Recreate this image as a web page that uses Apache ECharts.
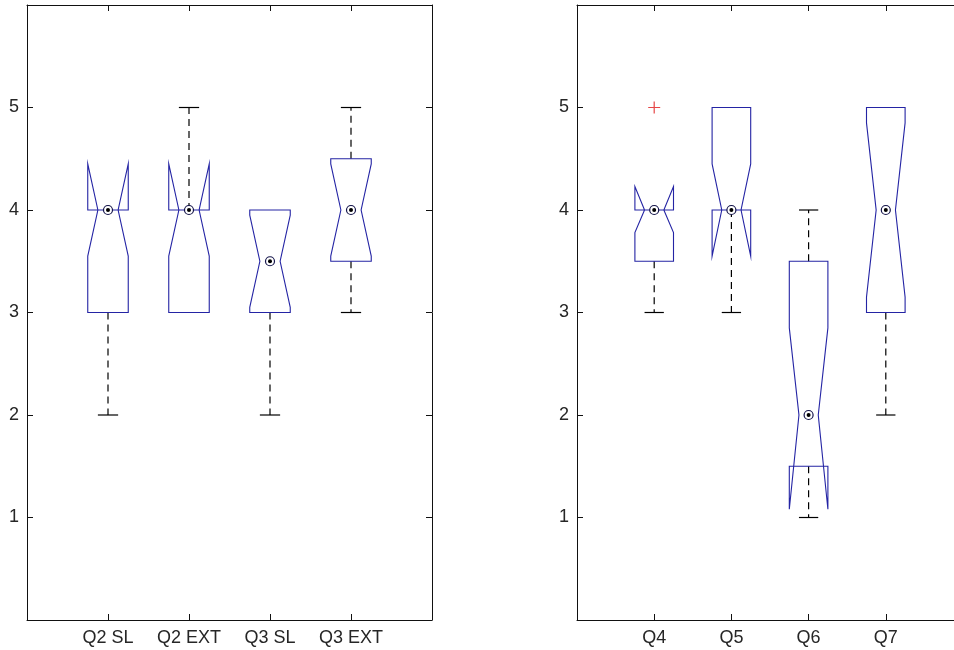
<!DOCTYPE html>
<html>
<head>
<meta charset="utf-8">
<script src="https://cdn.jsdelivr.net/npm/echarts@6/dist/echarts.min.js"></script>
<style>
  html, body { margin: 0; padding: 0; background: #fff; }
  #chart { width: 954px; height: 650px; }
</style>
</head>
<body>
<div id="chart"></div>
<script>
// left panel
const leftNames = ['Q2 SL', 'Q2 EXT', 'Q3 SL', 'Q3 EXT']
const leftWhiskerLow = [2, 3, 2, 3]
const leftQ1 = [3, 3, 3, 3.5]
const leftMedian = [4, 4, 3.5, 4]
const leftQ3 = [4, 4, 4, 4.5]
const leftWhiskerHigh = [4, 5, 4, 5]
const leftNotchLow = [3.55, 3.55, 3.05, 3.55]
const leftNotchHigh = [4.45, 4.45, 3.95, 4.45]
const leftOutliers = []

// right panel
const rightNames = ['Q4', 'Q5', 'Q6', 'Q7']
const rightWhiskerLow = [3, 3, 1, 2]
const rightQ1 = [3.5, 4, 1.5, 3]
const rightMedian = [4, 4, 2, 4]
const rightQ3 = [4, 5, 3.5, 5]
const rightWhiskerHigh = [4, 5, 4, 5]
const rightNotchLow = [3.78, 3.55, 1.08, 3.15]
const rightNotchHigh = [4.23, 4.45, 2.85, 4.85]
const rightOutliers = [[1, 5]]

const yTicks = [1, 2, 3, 4, 5]

const BOX = '#2424a4'
const INK = '#111'

function rows(wl, q1, md, q3, wh, nlo, nhi) {
  return q1.map((_, i) => [i + 1, wl[i], q1[i], md[i], q3[i], wh[i], nlo[i], nhi[i]])
}

function renderBox(params, api) {
  const x = api.value(0)
  const wl = api.value(1), q1 = api.value(2), md = api.value(3), q3 = api.value(4)
  const wh = api.value(5), nlo = api.value(6), nhi = api.value(7)
  const hw = 0.25, ind = 0.125, cap = 0.125
  const P = (dx, v) => api.coord([x + dx, v])
  const kids = []
  const seg = (a, b, dash) => ({
    type: 'line',
    shape: { x1: a[0], y1: a[1], x2: b[0], y2: b[1] },
    style: { stroke: '#000', lineWidth: 1.2, lineDash: dash ? [7, 5] : null }
  })
  if (wh > q3) {
    kids.push(seg(P(0, q3), P(0, wh), true))
    kids.push(seg(P(-cap, wh), P(cap, wh)))
  }
  if (wl < q1) {
    kids.push(seg(P(0, q1), P(0, wl), true))
    kids.push(seg(P(-cap, wl), P(cap, wl)))
  }
  kids.push({
    type: 'polygon',
    shape: {
      points: [
        P(-hw, q1), P(-hw, nlo), P(-hw + ind, md), P(-hw, nhi), P(-hw, q3),
        P(hw, q3), P(hw, nhi), P(hw - ind, md), P(hw, nlo), P(hw, q1)
      ]
    },
    style: { fill: 'none', stroke: BOX, lineWidth: 1.1 }
  })
  const c = P(0, md)
  kids.push({ type: 'circle', shape: { cx: c[0], cy: c[1], r: 4.5 }, style: { fill: '#fff', stroke: '#14144a', lineWidth: 1.2 } })
  kids.push({ type: 'circle', shape: { cx: c[0], cy: c[1], r: 2 }, style: { fill: '#000' } })
  return { type: 'group', children: kids }
}

function xAxes(names, gi) {
  const base = {
    type: 'value', gridIndex: gi, min: 0, max: 5, interval: 1,
    axisLine: { show: true, onZero: false, lineStyle: { color: INK, width: 1 } },
    axisTick: { show: true, inside: true, length: 6, lineStyle: { color: INK } },
    splitLine: { show: false }
  }
  return [
    Object.assign({}, base, {
      position: 'bottom',
      axisLabel: {
        margin: 9, color: '#262626', fontSize: 18, fontFamily: 'Liberation Sans',
        formatter: v => names[v - 1] || ''
      }
    }),
    Object.assign({}, base, { position: 'top', axisLabel: { show: false } })
  ]
}

function yAxes(gi, rightLine) {
  const base = {
    type: 'value', gridIndex: gi, min: 0, max: 6, interval: 1,
    axisLine: { show: true, onZero: false, lineStyle: { color: INK, width: 1 } },
    axisTick: { show: true, inside: true, length: 6, lineStyle: { color: INK } },
    splitLine: { show: false }
  }
  return [
    Object.assign({}, base, {
      position: 'left',
      axisLabel: {
        margin: 8, color: '#262626', fontSize: 18, fontFamily: 'Liberation Sans',
        formatter: v => yTicks.includes(v) ? String(v) : ''
      }
    }),
    Object.assign({}, base, {
      position: 'right',
      axisLine: { show: rightLine, onZero: false, lineStyle: { color: INK, width: 1 } },
      axisLabel: { show: false }
    })
  ]
}

const chart = echarts.init(document.getElementById('chart'))
chart.setOption({
  animation: false,
  backgroundColor: '#fff',
  grid: [
    { left: 27, top: 5, width: 405, height: 615, outerBoundsMode: 'none', containLabel: false },
    { left: 577, top: 5, width: 386, height: 615, outerBoundsMode: 'none', containLabel: false }
  ],
  xAxis: [...xAxes(leftNames, 0), ...xAxes(rightNames, 1)],
  yAxis: [...yAxes(0, true), ...yAxes(1, false)],
  series: [
    {
      type: 'custom', xAxisIndex: 0, yAxisIndex: 0, renderItem: renderBox,
      data: rows(leftWhiskerLow, leftQ1, leftMedian, leftQ3, leftWhiskerHigh, leftNotchLow, leftNotchHigh)
    },
    {
      type: 'custom', xAxisIndex: 2, yAxisIndex: 2, renderItem: renderBox,
      data: rows(rightWhiskerLow, rightQ1, rightMedian, rightQ3, rightWhiskerHigh, rightNotchLow, rightNotchHigh)
    },
    {
      type: 'scatter', xAxisIndex: 0, yAxisIndex: 0, data: leftOutliers,
      symbol: 'path://M0,6L12,6M6,0L6,12', symbolSize: 12,
      itemStyle: { color: 'none', borderColor: '#e01818', borderWidth: 1.2 }
    },
    {
      type: 'scatter', xAxisIndex: 2, yAxisIndex: 2, data: rightOutliers,
      symbol: 'path://M0,6L12,6M6,0L6,12', symbolSize: 12,
      itemStyle: { color: 'none', borderColor: '#e01818', borderWidth: 1.2 }
    }
  ]
})
</script>
</body>
</html>
